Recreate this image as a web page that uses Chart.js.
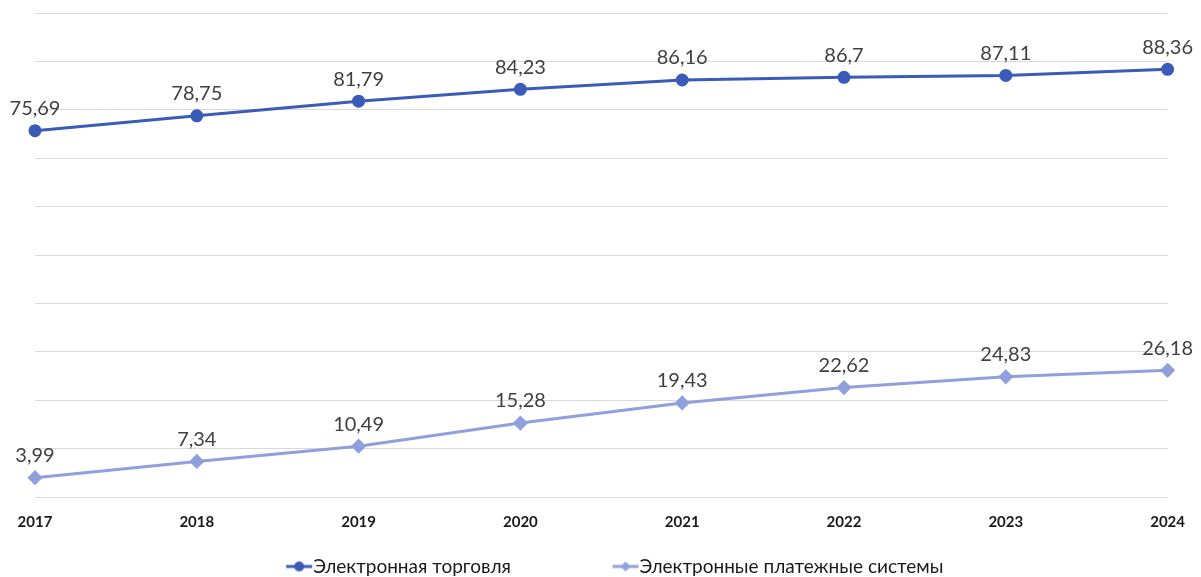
<!DOCTYPE html>
<html>
<head>
<meta charset="utf-8">
<script src="https://cdn.jsdelivr.net/npm/chart.js@4/dist/chart.umd.min.js"></script>
<style>
  html, body { margin: 0; padding: 0; background: #fff; }
  canvas { display: block; }
</style>
</head>
<body>
<canvas id="chart" width="1201" height="577"></canvas>
<script>
// years on the x axis
const years = ["2017", "2018", "2019", "2020", "2021", "2022", "2023", "2024"];

// share values, %
const ecommerce = [75.69, 78.75, 81.79, 84.23, 86.16, 86.7, 87.11, 88.36];
const epayments = [3.99, 7.34, 10.49, 15.28, 19.43, 22.62, 24.83, 26.18];

const seriesNames = ["Электронная торговля", "Электронные платежные системы"];

const darkBlue = "#3a5cb8";
const lightBlue = "#8fa0dc";
const fontFamily = "Lato, 'Open Sans', sans-serif";

const legendFont = 19;
const legendBoxW = 109;

// legend marker: short line with a point, drawn at the right end of the box
function legendMarker(color, diamond) {
    const c = document.createElement("canvas");
    c.width = legendBoxW + legendFont;
    c.height = 12;
    const g = c.getContext("2d");
    const x0 = c.width - 27;
    g.strokeStyle = color;
    g.lineWidth = 3;
    g.beginPath();
    g.moveTo(x0, 6);
    g.lineTo(x0 + 26, 6);
    g.stroke();
    g.fillStyle = color;
    g.beginPath();
    const cx = x0 + 13;
    if (diamond) {
        g.moveTo(cx, 1);
        g.lineTo(cx + 5, 6);
        g.lineTo(cx, 11);
        g.lineTo(cx - 5, 6);
    } else {
        g.arc(cx, 6, 5, 0, Math.PI * 2);
    }
    g.fill();
    return c;
}

// value labels above each point
const valueLabels = {
    id: "valueLabels",
    afterDatasetsDraw(chart) {
        const ctx = chart.ctx;
        ctx.save();
        ctx.font = "20px " + fontFamily;
        ctx.fillStyle = "#404040";
        ctx.textAlign = "center";
        ctx.textBaseline = "middle";
        chart.data.datasets.forEach((ds, i) => {
            chart.getDatasetMeta(i).data.forEach((pt, j) => {
                const txt = String(ds.data[j]).replace(".", ",");
                ctx.fillText(txt, pt.x, pt.y - 22);
            });
        });
        ctx.restore();
    },
};

// nudge the legend to the left, like in the original
const legendShift = {
    id: "legendShift",
    afterLayout(chart) {
        const lg = chart.legend;
        lg.left -= 35;
        lg.right -= 35;
    },
};

const ctx = document.getElementById("chart").getContext("2d");
new Chart(ctx, {
    type: "line",
    data: {
        labels: years,
        datasets: [
            {
                label: seriesNames[0],
                data: ecommerce,
                borderColor: darkBlue,
                backgroundColor: darkBlue,
                borderWidth: 3,
                pointStyle: "circle",
                pointRadius: 5,
                pointHoverRadius: 5,
                tension: 0,
            },
            {
                label: seriesNames[1],
                data: epayments,
                borderColor: lightBlue,
                backgroundColor: lightBlue,
                borderWidth: 3,
                pointStyle: "rectRot",
                pointRadius: 5.5,
                pointHoverRadius: 5.5,
                tension: 0,
            },
        ],
    },
    options: {
        responsive: false,
        animation: false,
        devicePixelRatio: 1,
        layout: {
            padding: { left: 35, right: 28, top: 13, bottom: -9 },
        },
        scales: {
            x: {
                grid: { display: false, drawTicks: false },
                border: { display: false },
                ticks: {
                    color: "#1a1a1a",
                    font: { family: fontFamily, size: 15, weight: "bold" },
                    padding: 16,
                    maxRotation: 0,
                    autoSkip: false,
                },
            },
            y: {
                min: 0,
                max: 100,
                grid: { color: "#d9d9d9", lineWidth: 1, drawTicks: false },
                border: { display: false },
                ticks: { display: false, stepSize: 10 },
            },
        },
        plugins: {
            tooltip: { enabled: false },
            legend: {
                position: "bottom",
                labels: {
                    color: "#1a1a1a",
                    font: { family: fontFamily, size: legendFont },
                    usePointStyle: true,
                    pointStyleWidth: legendBoxW,
                    padding: 10,
                    generateLabels(chart) {
                        return chart.data.datasets.map((ds, i) => ({
                            text: ds.label,
                            pointStyle: legendMarker(ds.borderColor, i === 1),
                            fillStyle: ds.borderColor,
                            strokeStyle: ds.borderColor,
                            lineWidth: 0,
                            hidden: false,
                            datasetIndex: i,
                            fontColor: "#1a1a1a",
                        }));
                    },
                },
            },
        },
    },
    plugins: [valueLabels, legendShift],
});
</script>
</body>
</html>
